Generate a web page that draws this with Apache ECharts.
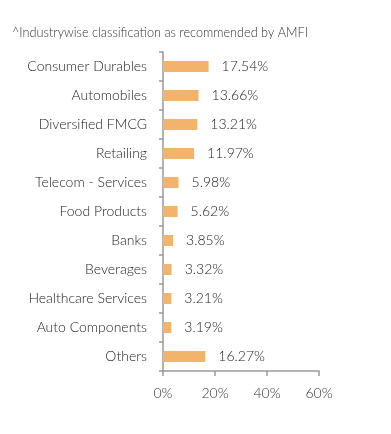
<!DOCTYPE html>
<html><head><meta charset="utf-8">
<script src="https://cdn.jsdelivr.net/npm/echarts@6/dist/echarts.min.js"></script>
<style>html,body{margin:0;padding:0;background:#fff}#c{width:391px;height:434px}</style>
</head><body><div id="c"></div>
<script>
var categories = ["Consumer Durables","Automobiles","Diversified FMCG","Retailing","Telecom - Services","Food Products","Banks","Beverages","Healthcare Services","Auto Components","Others"];
var values = [17.54,13.66,13.21,11.97,5.98,5.62,3.85,3.32,3.21,3.19,16.27];
var xTicks = [0,20,40,60];
var titleText = "^Industrywise classification as recommended by AMFI";

var chart = echarts.init(document.getElementById('c'));
chart.setOption({
  animation:false,
  textStyle:{fontFamily:'Lato'},
  title:{text:titleText,left:7,top:21,textStyle:{fontFamily:'Lato',fontSize:12.7,fontWeight:300,color:'#333'}},
  grid:{left:163,right:72,top:52,bottom:63,containLabel:false},
  xAxis:{type:'value',min:0,max:60,interval:20,
    axisLine:{show:true,lineStyle:{color:'#999',width:1.5}},
    axisTick:{show:true,length:5,lineStyle:{color:'#999',width:1.5}},
    splitLine:{show:false},
    axisLabel:{formatter:function(v){return v+'%';},color:'#333',fontSize:14,fontWeight:300,margin:15,fontFamily:'Lato'}},
  yAxis:{type:'category',data:categories,inverse:true,
    axisLine:{show:true,lineStyle:{color:'#999',width:1.5}},
    axisTick:{show:true,length:4,lineStyle:{color:'#999',width:1.5}},
    axisLabel:{color:'#222',fontSize:14,fontWeight:300,margin:16,fontFamily:'Lato'}},
  series:[{type:'bar',data:values,barWidth:11,itemStyle:{color:'#F2B36B'},
    label:{show:true,position:'right',distance:13,formatter:function(p){return p.value.toFixed(2)+'%';},color:'#222',fontSize:14,fontWeight:300,fontFamily:'Lato'}}]
});
</script></body></html>
